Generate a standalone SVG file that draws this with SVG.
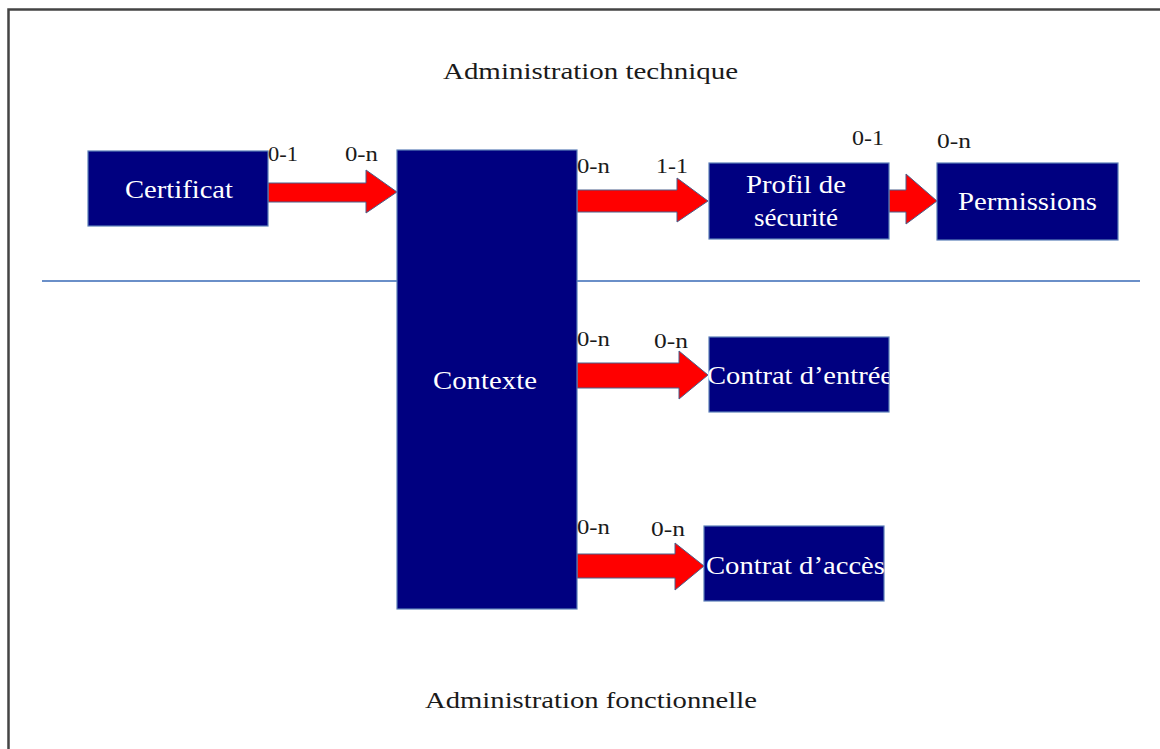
<svg xmlns="http://www.w3.org/2000/svg" width="1160" height="749" viewBox="0 0 1160 749">
<style>
.box{fill:#000080;stroke:#5b7fb8;stroke-width:1.2}
.bt{font-family:"Liberation Serif","Times New Roman",serif;font-size:26px;fill:#ffffff}
.lb{font-family:"Liberation Serif","Times New Roman",serif;font-size:20px;fill:#1a1a1a}
.ti{font-family:"Liberation Serif","Times New Roman",serif;font-size:24px;fill:#1a1a1a}
.ar{fill:#ff0000;stroke:#4a5f8a;stroke-width:1}
</style>
<defs>
<clipPath id="clipE"><rect x="700" y="337" width="189" height="75"/></clipPath>
</defs>
<rect x="0" y="0" width="1160" height="749" fill="#ffffff"/>
<path d="M8.5,749 V9.5 H1160" fill="none" stroke="#444444" stroke-width="2.5"/>
<line x1="42" y1="281" x2="1140" y2="281" stroke="#6a8fc8" stroke-width="2"/>
<text class="ti" x="443" y="79" textLength="295" lengthAdjust="spacingAndGlyphs">Administration technique</text>
<text class="ti" x="425" y="708" textLength="332" lengthAdjust="spacingAndGlyphs">Administration fonctionnelle</text>
<g id="connectors">
<polygon class="ar" points="268,183 366,183 366,170 397,192 366,213 366,202 268,202"/>
<polygon class="ar" points="577,190 677,190 677,178 708,201 677,222 677,212 577,212"/>
<polygon class="ar" points="889,190 906,190 906,174 937,201 906,224 906,212 889,212"/>
<polygon class="ar" points="577,363 679,363 679,351 708,375 679,399 679,388 577,388"/>
<polygon class="ar" points="577,554 675,554 675,543 704,566 675,590 675,578 577,578"/>
</g>
<g id="certificat">
<rect class="box" x="88" y="151" width="180" height="75"/>
<text class="bt" x="125" y="198" textLength="108" lengthAdjust="spacingAndGlyphs">Certificat</text>
</g>
<g id="contexte">
<rect class="box" x="397" y="150" width="180" height="459"/>
<text class="bt" x="433" y="389" textLength="104" lengthAdjust="spacingAndGlyphs">Contexte</text>
</g>
<g id="profil">
<rect class="box" x="709" y="163" width="180" height="76"/>
<text class="bt" x="746" y="193" textLength="100" lengthAdjust="spacingAndGlyphs">Profil de</text>
<text class="bt" x="754" y="226" textLength="84" lengthAdjust="spacingAndGlyphs">sécurité</text>
</g>
<g id="permissions">
<rect class="box" x="937" y="163" width="181" height="77"/>
<text class="bt" x="958" y="210" textLength="139" lengthAdjust="spacingAndGlyphs">Permissions</text>
</g>
<g id="contrat-entree">
<rect class="box" x="709" y="337" width="180" height="75"/>
<text class="bt" x="707" y="384" textLength="186" lengthAdjust="spacingAndGlyphs" clip-path="url(#clipE)">Contrat d’entrée</text>
</g>
<g id="contrat-acces">
<rect class="box" x="704" y="526" width="180" height="75"/>
<text class="bt" x="706" y="574" textLength="179" lengthAdjust="spacingAndGlyphs">Contrat d’accès</text>
</g>
<g id="labels">
<text class="lb" x="268" y="161" textLength="30" lengthAdjust="spacingAndGlyphs">0-1</text>
<text class="lb" x="345" y="161" textLength="33" lengthAdjust="spacingAndGlyphs">0-n</text>
<text class="lb" x="577" y="173" textLength="33" lengthAdjust="spacingAndGlyphs">0-n</text>
<text class="lb" x="656" y="173" textLength="32" lengthAdjust="spacingAndGlyphs">1-1</text>
<text class="lb" x="852" y="145" textLength="32" lengthAdjust="spacingAndGlyphs">0-1</text>
<text class="lb" x="937" y="148" textLength="34" lengthAdjust="spacingAndGlyphs">0-n</text>
<text class="lb" x="577" y="346" textLength="33" lengthAdjust="spacingAndGlyphs">0-n</text>
<text class="lb" x="654" y="348" textLength="34" lengthAdjust="spacingAndGlyphs">0-n</text>
<text class="lb" x="577" y="534" textLength="33" lengthAdjust="spacingAndGlyphs">0-n</text>
<text class="lb" x="651" y="536" textLength="34" lengthAdjust="spacingAndGlyphs">0-n</text>
</g>
</svg>
